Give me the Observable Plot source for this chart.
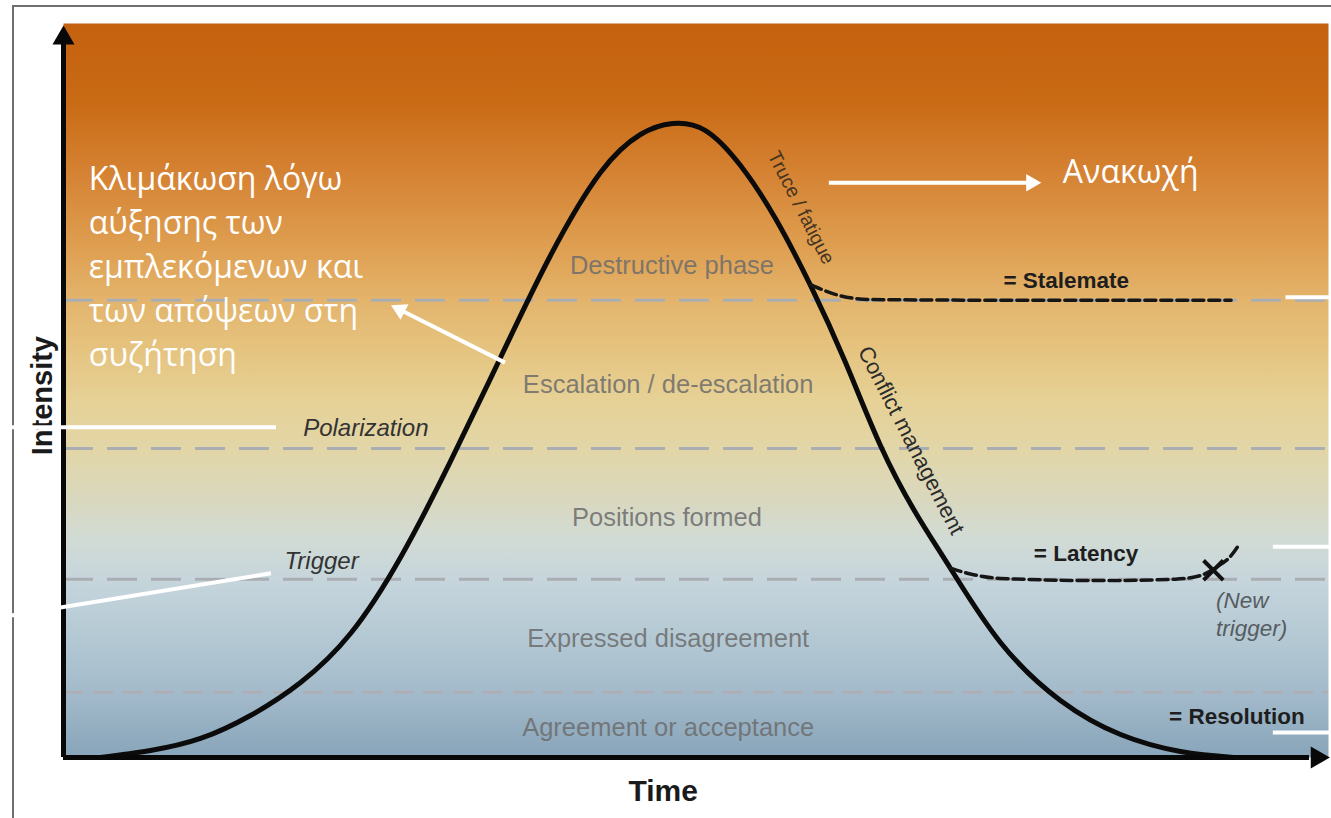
<!DOCTYPE html>
<html>
<head>
<meta charset="utf-8">
<script src="https://cdn.jsdelivr.net/npm/d3@7"></script>
<script src="https://cdn.jsdelivr.net/npm/@observablehq/plot@0.6"></script>
<style>
  body { margin: 0; background: #fff; }
  #wrap { position: relative; width: 1331px; height: 818px; overflow: hidden; background: #fff; }
  #border { position: absolute; left: 12px; top: 5px; width: 1330px; height: 830px;
            border-left: 2px solid #6e6e6e; border-top: 2px solid #6e6e6e; }
  #chart { position: absolute; left: 0; top: 0; }
</style>
</head>
<body>
<div id="wrap"><div id="border"></div><div id="chart"></div></div>
<script>
// ---------- data (time 0–100, intensity 0–100) ----------
const curveTime      = [2.92, 6.88, 10.83, 14.78, 18.74, 22.69, 26.64, 30.59, 34.55, 38.50, 42.45, 45.61, 48.14,
                        50.75, 53.52, 56.28, 59.05, 61.82, 64.58, 67.35, 70.12, 74.07, 78.81, 83.56, 88.30, 92.49];
const curveIntensity = [0, 0.95, 2.59, 5.72, 10.22, 16.89, 27.25, 40.33, 54.50, 68.39, 79.70, 84.88, 86.38,
                        85.42, 80.65, 73.43, 64.31, 53.81, 42.51, 33.38, 25.75, 15.67, 7.77, 3.13, 0.82, 0];

const stalemateTime      = [59.1, 61.0, 63.8, 74.1, 92.3];
const stalemateIntensity = [64.4, 63.1, 62.4, 62.3, 62.3];

const latencyTime      = [70.1, 71.7, 74.1, 82.0, 87.9, 89.9, 91.1, 92.3, 93.0];
const latencyIntensity = [25.8, 25.0, 24.4, 24.1, 24.3, 24.8, 25.9, 27.5, 29.2];

const newTriggerMark = [{time: 90.9, intensity: 25.5}];

const phaseBoundaries = [62.3, 42.1, 24.3];
const faintBoundary   = [8.9];

const phaseLabels = ["Destructive phase", "Escalation / de-escalation", "Positions formed",
                     "Expressed disagreement", "Agreement or acceptance"];
const phaseLabelTime      = [48.1, 47.8, 47.7, 47.8, 47.8];
const phaseLabelIntensity = [67.0, 50.8, 32.6, 16.1, 4.1];

const thresholdLabels    = ["Polarization", "Trigger"];
const thresholdTime      = [23.9, 20.4];
const thresholdIntensity = [44.8, 26.7];

const outcomeLabels    = ["= Stalemate", "= Latency", "= Resolution"];
const outcomeTime      = [74.3, 76.7, 87.4];
const outcomeIntensity = [64.9, 27.8, 5.6];

const newTriggerLines     = ["(New", "trigger)"];
const newTriggerTime      = [91.1, 91.1];
const newTriggerIntensity = [21.3, 17.6];

const slopeLabels    = ["Truce / fatigue", "Conflict management"];
const slopeTime      = [58.3, 67.0];
const slopeIntensity = [74.9, 43.2];

const greekLines = ["Κλιμάκωση λόγω", "αύξησης των", "εμπλεκόμενων και", "των απόψεων στη", "συζήτηση"];
const greekPos   = [{time: 2.0, intensity: 67.3}];
const truceWord  = ["Ανακωχή"];
const trucePos   = [{time: 79.0, intensity: 79.6}];

// white annotation connectors
const annoX1 = [-5.0, -5.0, 96.6, 95.6, 95.6, 34.9, 60.5];
const annoY1 = [45.0, 19.1, 62.7, 28.7, 3.4, 53.8, 78.3];
const annoX2 = [16.8, 16.4, 100.2, 100.2, 100.2, 26.6, 76.4];
const annoY2 = [45.0, 25.1, 62.7, 28.7, 3.4, 61.0, 78.3];
const annoHeadTime      = [26.6, 76.5];
const annoHeadIntensity = [61.0, 78.3];
const annoHeadAngle     = [-63, 90];

// axes
const axisHeadTime      = [0, 99.1];
const axisHeadIntensity = [98.0, 0];
const axisHeadAngle     = [0, 90];

// background gradient stops (intensity -> colour)
const bgIntensity = [99.0, 89.5, 78.6, 69.1, 62.3, 55.4, 48.6, 41.8, 35.0, 29.6, 24.2, 15.9, 7.8, 1.0];
const bgColor = ["#c5620f", "#c96a15", "#d68536", "#dfa052", "#e3b46c", "#e5c480", "#e6d196",
                 "#e2d6a8", "#d9d8bf", "#d1dbd5", "#c6d5dc", "#b3c8d3", "#a0b8c9", "#8ba7bb"];

const SANS = "Liberation Sans, Arial, Helvetica, sans-serif";
const GREEK = "Open Sans, Noto Sans, sans-serif";
const idx = a => a.map((_, i) => i);

const svg = Plot.plot({
  width: 1331, height: 818,
  marginLeft: 63, marginRight: 3, marginTop: 23, marginBottom: 61,
  x: {domain: [0, 100], axis: null},
  y: {domain: [0, 100], axis: null},
  style: {background: "transparent", overflow: "visible"},
  marks: [
    Plot.frame({fill: "url(#bg)", stroke: null}),
    Plot.ruleY(phaseBoundaries, {y: d => d, stroke: "#aaaeb3", strokeWidth: 3, strokeDasharray: "30,14"}),
    Plot.ruleY(faintBoundary, {y: d => d, stroke: "#bba3a0", strokeOpacity: 0.55, strokeWidth: 2.5, strokeDasharray: "20,10"}),
    // phase labels
    Plot.text(idx(phaseLabels), {x: phaseLabelTime, y: phaseLabelIntensity, text: phaseLabels,
      fontFamily: SANS, fontSize: 25.5, fill: "#6c6c6c", fillOpacity: 0.85}),
    // main curve
    Plot.line(curveTime, {x: curveTime, y: curveIntensity, curve: "natural", stroke: "#0b0b0b", strokeWidth: 5}),
    Plot.line(stalemateTime, {x: stalemateTime, y: stalemateIntensity, curve: "monotone-x",
      stroke: "#161616", strokeWidth: 3.5, strokeDasharray: "11,5"}),
    Plot.line(latencyTime, {x: latencyTime, y: latencyIntensity, curve: "monotone-x",
      stroke: "#161616", strokeWidth: 3.5, strokeDasharray: "11,5"}),
    Plot.dot(newTriggerMark, {x: "time", y: "intensity", symbol: "times", r: 9, stroke: "#111", strokeWidth: 4}),
    // axes
    Plot.ruleX([0], {y1: 0, y2: 97.7, stroke: "#080808", strokeWidth: 5}),
    Plot.ruleY([0], {x1: 0, x2: 98.5, stroke: "#080808", strokeWidth: 5}),
    Plot.dot(idx(axisHeadTime), {x: axisHeadTime, y: axisHeadIntensity, rotate: axisHeadAngle,
      symbol: "triangle", r: 8.2, fill: "#080808", stroke: null}),
    // labels
    Plot.text(idx(thresholdLabels), {x: thresholdTime, y: thresholdIntensity, text: thresholdLabels,
      fontFamily: SANS, fontSize: 24, fontStyle: "italic", fill: "#333"}),
    Plot.text(idx(outcomeLabels), {x: outcomeTime, y: outcomeIntensity, text: outcomeLabels, textAnchor: "start",
      fontFamily: SANS, fontSize: 22.5, fontWeight: "bold", fill: "#1e1e1e"}),
    Plot.text(idx(newTriggerLines), {x: newTriggerTime, y: newTriggerIntensity, text: newTriggerLines, textAnchor: "start",
      fontFamily: SANS, fontSize: 22.5, fontStyle: "italic", fill: "#575c62"}),
    Plot.text(idx(slopeLabels), {x: slopeTime, y: slopeIntensity, text: slopeLabels, rotate: 63,
      fontFamily: SANS, fontSize: [19.5, 22], fill: ["#47351f", "#2b2b2b"]}),
    Plot.text(["Intensity"], {x: -1.66, y: 49.3, rotate: -90, fontFamily: SANS, fontSize: 29, fontWeight: "bold", fill: "#1a1a1a"}),
    Plot.text(["Time"], {x: 47.4, y: -4.6, fontFamily: SANS, fontSize: 30, fontWeight: "bold", fill: "#1a1a1a"}),
    // white annotations
    Plot.link(idx(annoX1), {x1: annoX1, y1: annoY1, x2: annoX2, y2: annoY2, stroke: "#fff", strokeWidth: 4}),
    Plot.dot(idx(annoHeadTime), {x: annoHeadTime, y: annoHeadIntensity, rotate: annoHeadAngle,
      symbol: "triangle", r: 6.5, fill: "#fff", stroke: null}),
    Plot.text(greekPos, {x: "time", y: "intensity", text: () => greekLines.join("\n"), textAnchor: "start",
      lineHeight: 44 / 32, fontFamily: GREEK, fontSize: 32, fill: "#fff"}),
    Plot.text(trucePos, {x: "time", y: "intensity", text: () => truceWord[0], textAnchor: "start",
      fontFamily: GREEK, fontSize: 32, fill: "#fff"})
  ]
});

// gradient definition for the frame fill
const defs = d3.select(svg).insert("defs", ":first-child");
const lg = defs.append("linearGradient").attr("id", "bg")
  .attr("x1", 0).attr("y1", 0).attr("x2", 0).attr("y2", 1);
bgIntensity.forEach((v, i) => {
  lg.append("stop").attr("offset", ((100 - v) / 100).toFixed(3)).attr("stop-color", bgColor[i]);
});

document.getElementById("chart").appendChild(svg);
</script>
</body>
</html>
